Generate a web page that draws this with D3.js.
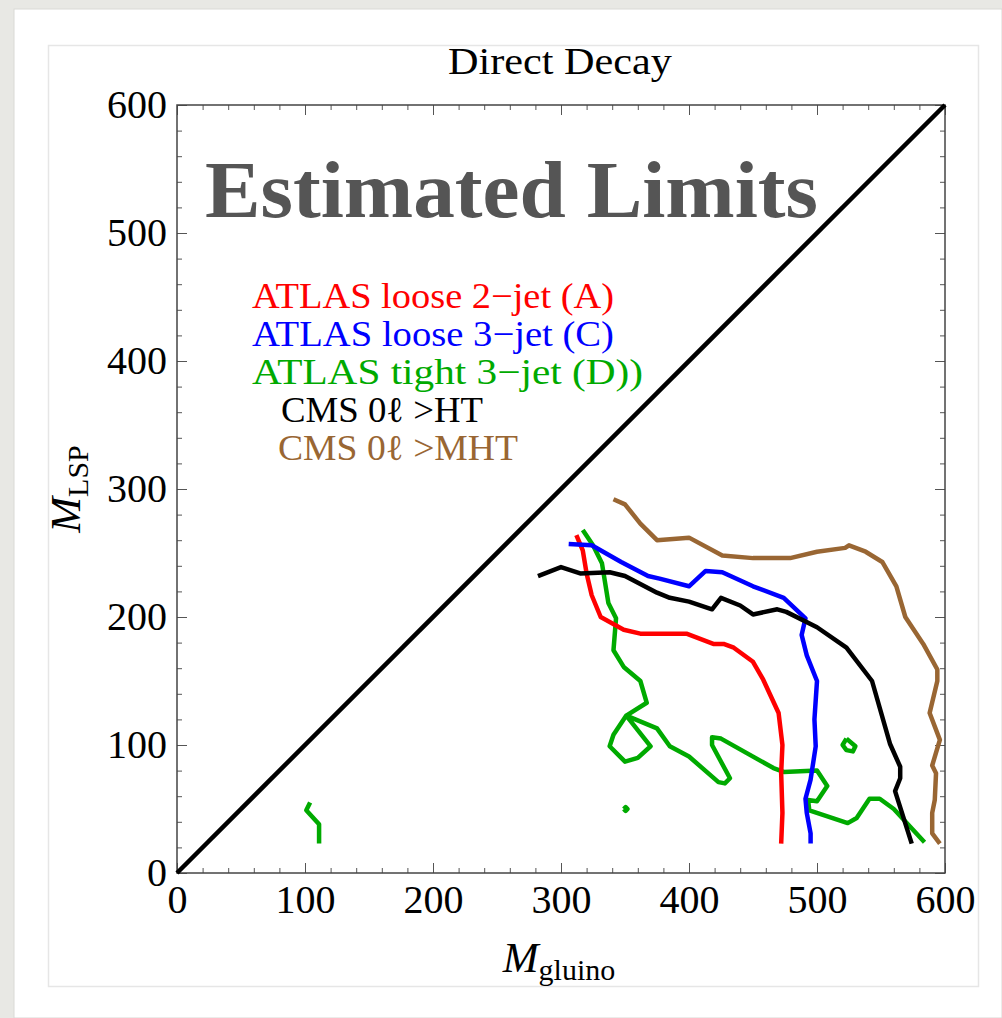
<!DOCTYPE html>
<html>
<head>
<meta charset="utf-8">
<script src="https://cdn.jsdelivr.net/npm/d3@7"></script>
<style>
body { margin: 0; background: #e8e8e4; }
svg { display: block; }
text { font-family: 'Liberation Serif', 'Times New Roman', serif; }
</style>
</head>
<body>
<script>

// contour points, as [M_gluino, M_LSP]
const atlasLoose2jet = [[312,264],[317,252],[320,234],[324,217],[331,200],[349,190],[362,187],[398,187],
    [419,179],[427,179],[435,176],[450,165],[458,151],[470,125],[473,100],[472,78],[473,47],[472,23]]

const atlasLoose3jet = [[306,257],[324,256],[347,243],[368,232],[377,230],[400,224],[413,236],[426,235],
    [450,224],[474,215],[491,199],[488,186],[492,170],[500,150],[498,120],[499,99],[495,73],[491,58],
    [492,47],[495,31],[495,23]]

const atlasTight3jet = [[317,268],[325,256],[332,242],[337,211],[343,199],[341,174],[349,161],[362,150],
    [367,133],[351,123],[370,99],[360,90],[350,87],[338,99],[341,108],[351,123],[375,113],[385,99],
    [400,91],[423,71],[428,70],[432,74],[418,100],[418,106],[425,105],[466,82],[474,79],[500,80],
    [508,68],[500,56],[493,57],[494,49],[524,39],[531,43],[541,58],[549,58],[560,50],[584,24]]
const atlasTight3jetIsland = [[523,105],[530,99],[528,95],[523,96],[520,100],[523,105]]
const atlasTight3jetDot = [[349,50],[350.5,51.5],[352,50],[350.5,48.5],[349,50]]
const atlasTight3jetLow = [[104,55],[101,49],[111,38],[111,23]]

const cmsHT = [[282,232],[300,239],[315,234],[338,235],[350,232],[375,219],[385,215],[400,212],
    [418,206],[425,215],[440,209],[450,202],[469,206],[476,204],[500,192],[523,176],[543,150],
    [557,101],[565,83],[565,74],[561,64],[574,23]]

const cmsMHT = [[341,292],[350,288],[362,273],[375,260],[400,262],[426,248],[450,246],[479,246],
    [500,251],[522,254],[525,256],[538,251],[551,243],[562,224],[569,200],[583,179],[594,159],
    [594,150],[588,125],[596,104],[593,94],[590,84],[593,78],[592,57],[590,47],[590,31],[596,23]]

const diagonal = [[0,0],[600,600]]

const legendLabels = ['ATLAS loose 2\u2212jet (A)', 'ATLAS loose 3\u2212jet (C)', 'ATLAS tight 3\u2212jet (D))',
    'CMS 0\u2113 >HT', 'CMS 0\u2113 >MHT']

const majorTicks = [0, 100, 200, 300, 400, 500, 600]
const minorTicks = [20, 40, 60, 80, 120, 140, 160, 180, 220, 240, 260, 280, 320, 340, 360, 380,
    420, 440, 460, 480, 520, 540, 560, 580]

// measurements
const m = { width: 1002, height: 1018, left: 177, right: 945, top: 105, bottom: 873 }

const red = '#ff0000', blue = '#0000ff', green = '#00aa00', black = '#000000', brown = '#996633'

const svg = d3.select('body').append('svg')
    .attr('width', m.width)
    .attr('height', m.height)

// page card + panel behind the chart
svg.append('rect').attr('x', 0).attr('y', 0).attr('width', m.width).attr('height', m.height)
    .attr('fill', '#e8e8e4')
svg.append('rect').attr('x', 14).attr('y', 9).attr('width', m.width - 14).attr('height', m.height - 9)
    .attr('fill', '#ffffff').attr('stroke', '#d9d9d5')
svg.append('rect').attr('x', 48.5).attr('y', 45.5).attr('width', 930).attr('height', 941)
    .attr('fill', '#ffffff').attr('stroke', '#e6e6e6').attr('stroke-width', 1.5)

const xScale = d3.scaleLinear().domain([0, 600]).range([m.left, m.right])
const yScale = d3.scaleLinear().domain([0, 600]).range([m.bottom, m.top])

// ticks pointing inward on all four sides
function ticks(axisFn, scale, values, size, translate, labels) {
    const g = svg.append('g')
        .attr('transform', translate)
        .call(axisFn(scale).tickValues(values).tickSize(-size)
            .tickPadding(axisFn === d3.axisBottom ? 12 : 10)
            .tickFormat(labels ? d3.format('d') : ''))
    g.select('.domain').remove()
    g.selectAll('line').attr('stroke', '#555').attr('stroke-width', 1)
    g.selectAll('text').attr('font-size', 40).attr('fill', '#000')
        .style('font-family', "'Liberation Serif', serif")
    return g
}
ticks(d3.axisBottom, xScale, majorTicks, 10, `translate(0,${m.bottom})`, true)
ticks(d3.axisBottom, xScale, minorTicks, 5, `translate(0,${m.bottom})`, false)
ticks(d3.axisLeft, yScale, majorTicks, 10, `translate(${m.left},0)`, true)
ticks(d3.axisLeft, yScale, minorTicks, 5, `translate(${m.left},0)`, false)
ticks(d3.axisTop, xScale, majorTicks, 10, `translate(0,${m.top})`, false)
ticks(d3.axisTop, xScale, minorTicks, 5, `translate(0,${m.top})`, false)
ticks(d3.axisRight, yScale, majorTicks, 10, `translate(${m.right},0)`, false)
ticks(d3.axisRight, yScale, minorTicks, 5, `translate(${m.right},0)`, false)

// frame
svg.append('rect')
    .attr('x', m.left).attr('y', m.top)
    .attr('width', m.right - m.left).attr('height', m.bottom - m.top)
    .attr('fill', 'none').attr('stroke', '#444').attr('stroke-width', 1.5)

// curves
const line = d3.line().x(d => xScale(d[0])).y(d => yScale(d[1]))
const curves = [
    { pts: diagonal, color: black },
    { pts: atlasTight3jet, color: green },
    { pts: atlasTight3jetIsland, color: green },
    { pts: atlasTight3jetDot, color: green },
    { pts: atlasTight3jetLow, color: green },
    { pts: atlasLoose2jet, color: red },
    { pts: atlasLoose3jet, color: blue },
    { pts: cmsHT, color: black },
    { pts: cmsMHT, color: brown }
]
svg.selectAll('path.curve')
    .data(curves)
    .join('path')
    .attr('class', 'curve')
    .attr('d', d => line(d.pts))
    .attr('fill', 'none')
    .attr('stroke', d => d.color)
    .attr('stroke-width', 4.5)
    .attr('stroke-linejoin', 'round')

// title and big label
svg.append('text')
    .attr('x', 448).attr('y', 74)
    .attr('font-size', 38)
    .attr('textLength', 224)
    .attr('lengthAdjust', 'spacingAndGlyphs')
    .text('Direct Decay')

svg.append('text')
    .attr('x', 205).attr('y', 217)
    .attr('font-size', 80)
    .attr('font-weight', 'bold')
    .attr('fill', '#555555')
    .attr('textLength', 613)
    .attr('lengthAdjust', 'spacingAndGlyphs')
    .text('Estimated Limits')

// legend
const legendColors = [red, blue, green, black, brown]
const legendX = [252, 252, 252, 281, 278]
const legendW = [362, 362, 391, 202, 240]
svg.selectAll('text.legend')
    .data(legendLabels)
    .join('text')
    .attr('class', 'legend')
    .attr('x', (d, i) => legendX[i])
    .attr('y', (d, i) => 308 + i * 38)
    .attr('font-size', 36)
    .attr('fill', (d, i) => legendColors[i])
    .attr('textLength', (d, i) => legendW[i])
    .attr('lengthAdjust', 'spacingAndGlyphs')
    .text(d => d)

// axes labels
const xLabel = svg.append('text')
    .attr('x', 559).attr('y', 972)
    .attr('text-anchor', 'middle')
xLabel.append('tspan').attr('font-size', 43).attr('font-style', 'italic').text('M')
xLabel.append('tspan').attr('font-size', 30).attr('dy', 8).text('gluino')

const yLabel = svg.append('text')
    .attr('transform', `translate(80, ${(m.top + m.bottom) / 2})rotate(-90)`)
    .attr('text-anchor', 'middle')
yLabel.append('tspan').attr('font-size', 43).attr('font-style', 'italic').text('M')
yLabel.append('tspan').attr('font-size', 30).attr('dy', 8).text('LSP')

</script>
</body>
</html>
